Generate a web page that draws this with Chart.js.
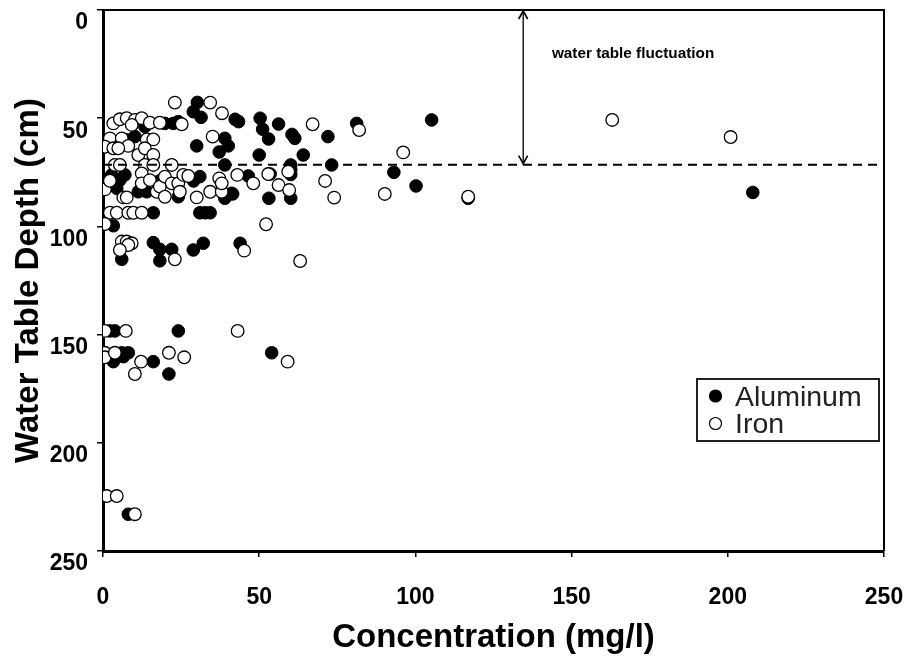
<!DOCTYPE html>
<html>
<head>
<meta charset="utf-8">
<script src="https://cdn.jsdelivr.net/npm/chart.js@4/dist/chart.umd.min.js"></script>
<style>
  html, body { margin: 0; padding: 0; background: #fff; }
  #wrap { width: 905px; height: 658px; position: relative; }
</style>
</head>
<body>
<div id="wrap"><canvas id="c" width="905" height="658"></canvas></div>
<script>
// ---- Data (concentration mg/l, water table depth cm) ----
const aluminumConc = [105.2, 208, 93.1, 100.2, 116.9,
  30.2, 28.9, 31.4, 42.3, 43.4, 50.3, 56.2, 51.1, 53, 81.2, 61.4, 60.5, 72, 39, 40.1, 30, 37.2, 50, 64.1,
  39, 60.1, 60.1, 60.1, 73.2, 46.5, 53.5, 53.1, 60.1, 41.5, 39, 31, 32.7, 34.3, 32.1, 43.9,
  13.4, 19.8, 22.5, 24.1, 7.6, 10.2,
  2.8, 7, 4.4, 5.4, 11.3, 14, 24.1, 31, 41.2, 16.1, 3.3, 6, 16.1, 18.2, 18.2, 22, 28.9, 18, 29,
  2.2, 3.8, 24.1, 6, 8.1, 3.3, 6.5, 16.1, 21.1, 54, 8.1];
const aluminumDepth = [50.8, 84.3, 75, 81.3, 87,
  42.7, 47, 49.6, 50.5, 51.6, 50, 52.7, 55.1, 59.6, 52.4, 59.3, 57.5, 58.5, 59.3, 62.8, 62.8, 65.6, 67, 67,
  71.6, 71.6, 73.8, 76, 71.6, 76.7, 75.8, 87, 87, 85, 87, 93.7, 93.7, 93.7, 107.8, 107.8,
  53.9, 52.4, 52.4, 51.6, 60, 58.5,
  76.2, 76.2, 82.4, 78.6, 84, 84, 86.3, 77, 84.7, 93.7, 99.7, 115.2, 107.5, 110.6, 115.9, 110.6, 110.9, 79, 79,
  148.3, 148.3, 148.3, 158.4, 158.4, 162.5, 160.2, 162.5, 168.2, 158.4, 233];

const ironConc = [163, 200.9, 96.1, 116.9, 90.2,
  34.3, 38.1, 67.1, 82, 35.1, 43, 52.9, 48.1, 59.3, 56.2, 59.6, 71.1, 74, 37.2, 34.3, 38, 52.2, 45.2, 63.1,
  23, 3.3, 5.4, 7.6, 10.2, 12.4, 9.2, 15, 18.2, 25.2, 2.2, 0.6, 3.3, 6, 8.1, 11.3, 14, 16.1, 13.4, 16.1, 4.9,
  3.8, 5.4, 13.4, 16.1, 22,
  0.6, 2.2, 6.5, 7.6, 12.4, 12.4, 15, 17.2, 18.2, 19.8, 19.8, 22, 24.1, 24.6, 25.7, 27.3, 30, 38,
  2.2, 4.4, 8.1, 9.7, 12.4, 0.6,
  6, 7.6, 9.2, 8.1, 5.4, 23,
  0.6, 7.3, 43.1, 0.6, 0.6, 3.8, 12.2, 10.2, 21.1, 26, 59.1,
  1.2, 4.4, 10.2];
const ironDepth = [50.8, 58.7, 65.8, 86.3, 85,
  42.8, 47.7, 52.8, 55.5, 58.5, 76.2, 75.8, 80.1, 74.7, 80.9, 83.2, 79, 86.7, 77.8, 84, 84, 99, 111.2, 116,
  42.8, 52.4, 50.5, 50, 50.8, 50, 53.1, 52.1, 52.1, 52.8, 59.3, 63.2, 63.9, 59.3, 62.8, 67, 59.8, 59.8, 63.9, 67, 63.9,
  71.6, 71.6, 71.6, 71.6, 71.6,
  82.9, 78.9, 86.6, 86.6, 75.5, 80.1, 78.6, 84, 81.6, 77, 86.3, 80.1, 80.1, 84, 76.2, 76.7, 86.6, 80.1,
  93.7, 93.7, 93.7, 93.7, 93.7, 98.9,
  107, 107, 107.8, 108.6, 110.9, 115.2,
  148.3, 148.3, 148.3, 158.4, 160.5, 158.4, 162.5, 168.2, 158.4, 160.5, 162.5,
  224.6, 224.6, 233];

const seriesLabels = ["Aluminum", "Iron"];
const xTickValues = [0, 50, 100, 150, 200, 250];
const yTickValues = [0, 50, 100, 150, 200, 250];
const xTitle = "Concentration (mg/l)";
const yTitle = "Water Table Depth (cm)";

// water table annotation
const meanWaterTable = 71.5;     // dashed line depth (cm)
const fluctuationTop = 0;        // top of fluctuation arrow (cm)
const arrowConc = 134.5;         // x position of arrow (mg/l)
const annotationText = "water table fluctuation";
const annotationConc = 143.7;
const annotationDepth = 20;

const toPts = (xs, ys) => xs.map((x, i) => ({ x: x, y: ys[i] }));

const FONT = "'Liberation Sans', Arial, sans-serif";

const framePlugin = {
  id: 'frame',
  afterDatasetsDraw(chart) {
    const { ctx, chartArea: a, scales: { x, y } } = chart;
    ctx.save();
    // top and right frame
    ctx.strokeStyle = '#000';
    ctx.lineWidth = 2;
    ctx.beginPath();
    ctx.moveTo(a.left, a.top);
    ctx.lineTo(a.right, a.top);
    ctx.lineTo(a.right, a.bottom);
    ctx.stroke();
    // arrow heads
    const ax = x.getPixelForValue(arrowConc);
    const yTop = y.getPixelForValue(fluctuationTop);
    const yBot = y.getPixelForValue(meanWaterTable);
    ctx.lineWidth = 1.6;
    ctx.beginPath();
    ctx.moveTo(ax - 4.5, yTop + 9); ctx.lineTo(ax, yTop + 1); ctx.lineTo(ax + 4.5, yTop + 9);
    ctx.moveTo(ax - 4.5, yBot - 9); ctx.lineTo(ax, yBot - 1); ctx.lineTo(ax + 4.5, yBot - 9);
    ctx.stroke();
    // annotation text
    ctx.fillStyle = '#000';
    ctx.font = "bold 15.3px " + FONT;
    ctx.textAlign = 'left';
    ctx.textBaseline = 'middle';
    ctx.fillText(annotationText, x.getPixelForValue(annotationConc), y.getPixelForValue(annotationDepth));
    // legend
    const lx = 697, ly = 379, lw = 182, lh = 62;
    ctx.fillStyle = '#fff';
    ctx.fillRect(lx, ly, lw, lh);
    ctx.strokeStyle = '#222';
    ctx.lineWidth = 2;
    ctx.strokeRect(lx, ly, lw, lh);
    const rows = [
      { label: chart.data.datasets[1].label, fill: '#000' },
      { label: chart.data.datasets[0].label, fill: '#fff' }
    ];
    rows.forEach((r, i) => {
      const cy = ly + 17 + i * 27.5;
      ctx.beginPath();
      ctx.arc(lx + 18.5, cy, 6, 0, Math.PI * 2);
      ctx.fillStyle = r.fill;
      ctx.fill();
      ctx.lineWidth = 1.2;
      ctx.strokeStyle = '#000';
      ctx.stroke();
      ctx.fillStyle = '#222';
      ctx.font = "28.5px " + FONT;
      ctx.textBaseline = 'middle';
      ctx.fillText(r.label, lx + 38, cy + 2);
    });
    ctx.restore();
  }
};

new Chart(document.getElementById('c'), {
  type: 'scatter',
  data: {
    datasets: [
      {
        label: seriesLabels[1],
        data: toPts(ironConc, ironDepth),
        pointRadius: 6.3,
        pointBackgroundColor: '#fff',
        pointBorderColor: '#000',
        pointBorderWidth: 1.3,
        order: 1
      },
      {
        label: seriesLabels[0],
        data: toPts(aluminumConc, aluminumDepth),
        pointRadius: 6.3,
        pointBackgroundColor: '#000',
        pointBorderColor: '#000',
        pointBorderWidth: 1,
        order: 2
      },
      {
        label: 'mean water table',
        data: [{ x: 0, y: meanWaterTable }, { x: 250, y: meanWaterTable }],
        showLine: true,
        borderColor: '#000',
        borderWidth: 2,
        borderDash: [9, 6],
        pointRadius: 0,
        order: 0
      },
      {
        label: 'fluctuation',
        data: [{ x: arrowConc, y: fluctuationTop }, { x: arrowConc, y: meanWaterTable }],
        showLine: true,
        borderColor: '#000',
        borderWidth: 1.3,
        pointRadius: 0,
        order: 0
      }
    ]
  },
  options: {
    responsive: false,
    animation: false,
    events: [],
    layout: { padding: { top: 10, right: 21, bottom: 0, left: 0 } },
    plugins: { legend: { display: false }, tooltip: { enabled: false } },
    scales: {
      x: {
        type: 'linear',
        min: 0, max: 250,
        afterBuildTicks: s => { s.ticks = xTickValues.map(v => ({ value: v })); },
        afterFit: s => { s.height = 107; s.paddingLeft = 0; s.paddingRight = 0; },
        grid: { drawOnChartArea: false, drawTicks: true, tickLength: 6, color: '#000', lineWidth: 1.5 },
        border: { display: true, color: '#000', width: 3 },
        ticks: { color: '#000', padding: 27, maxRotation: 0, font: { family: FONT, size: 23, weight: 'bold' } },
        title: { display: true, text: xTitle, color: '#000', padding: { top: 0, bottom: 4 },
                 font: { family: FONT, size: 33, weight: 'bold', lineHeight: 1 } }
      },
      y: {
        type: 'linear',
        reverse: true,
        min: 0, max: 250,
        afterBuildTicks: s => { s.ticks = yTickValues.map(v => ({ value: v })); },
        afterFit: s => { s.width = 103; s.paddingTop = 0; s.paddingBottom = 0; },
        grid: { drawOnChartArea: false, drawTicks: true, tickLength: 6, color: '#000', lineWidth: 1.5 },
        border: { display: true, color: '#000', width: 3 },
        ticks: { color: '#000', padding: 9, labelOffset: 13, font: { family: FONT, size: 23, weight: 'bold' } },
        title: { display: true, text: yTitle, color: '#000', padding: { top: 12, bottom: 0 },
                 font: { family: FONT, size: 33, weight: 'bold', lineHeight: 1 } }
      }
    }
  },
  plugins: [framePlugin]
});
</script>
</body>
</html>
